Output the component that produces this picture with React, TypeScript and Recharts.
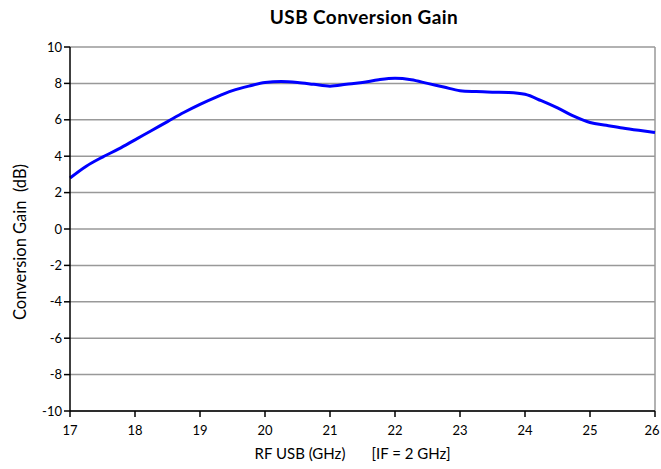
import React from "react";
import { LineChart, Line, XAxis, YAxis, CartesianGrid, ReferenceLine, Label } from "recharts";

const freqs = [17.0, 17.25, 17.5, 17.75, 18.0, 18.25, 18.5, 18.75, 19.0, 19.25, 19.5, 19.75, 20.0, 20.25, 20.5, 20.75, 21.0, 21.25, 21.5, 21.75, 22.0, 22.25, 22.5, 22.75, 23.0, 23.25, 23.5, 23.75, 24.0, 24.25, 24.5, 24.75, 25.0, 25.25, 25.5, 25.75, 26.0];
const gain = [2.8, 3.45, 3.95, 4.4, 4.9, 5.4, 5.9, 6.4, 6.85, 7.25, 7.6, 7.85, 8.05, 8.1, 8.05, 7.95, 7.85, 7.95, 8.05, 8.2, 8.28, 8.2, 8.0, 7.8, 7.6, 7.55, 7.52, 7.5, 7.4, 7.05, 6.65, 6.2, 5.85, 5.7, 5.55, 5.42, 5.3];
const xTicks = [17, 18, 19, 20, 21, 22, 23, 24, 25, 26];
const yTicks = [-10, -8, -6, -4, -2, 0, 2, 4, 6, 8, 10];

const data = freqs.map((f, i) => ({ f, g: gain[i] }));
const FONT = "Lato, 'Open Sans', sans-serif";

const XTick = (props: any) => {
  const { x, y, payload } = props;
  const shift = payload.value === 26 ? -3 : 0;
  return (
    <text x={x + shift} y={y} dy={16} textAnchor="middle" fontFamily={FONT} fontSize={13} fill="#000">
      {payload.value}
    </text>
  );
};

export default function App() {
  return (
    <div style={{ position: "absolute", left: 0, top: 0, width: 661, height: 469, background: "#fff", fontFamily: FONT }}>
      <div style={{ position: "absolute", left: 0, top: 5, width: 728, textAlign: "center", fontSize: 19, fontWeight: 700, color: "#000", lineHeight: "24px", letterSpacing: 0.4 }}>
        USB Conversion Gain
      </div>
      <LineChart width={661} height={469} data={data} margin={{ top: 47, right: 6, bottom: 28, left: 0 }}>
        <CartesianGrid vertical={false} stroke="#999" strokeWidth={1.5} />
        <ReferenceLine x={26} stroke="#999" strokeWidth={1.5} />
        <XAxis
          dataKey="f"
          type="number"
          domain={[17, 26]}
          ticks={xTicks}
          height={30}
          stroke="#000"
          strokeWidth={1.5}
          tickSize={6}
          tick={<XTick />}
          interval={0}
        >
          <Label
            content={() => (
              <g fontFamily={FONT} fontSize={15} fill="#000">
                <text x={300} y={459} textAnchor="middle">RF USB (GHz)</text>
                <text x={411} y={459} textAnchor="middle">[IF = 2 GHz]</text>
              </g>
            )}
          />
        </XAxis>
        <YAxis
          type="number"
          domain={[-10, 10]}
          ticks={yTicks}
          width={70}
          stroke="#000"
          strokeWidth={1.5}
          tickSize={6}
          tick={{ fill: "#000", fontSize: 13, fontFamily: FONT }}
          interval={0}
        >
          <Label
            content={() => (
              <text x={26} y={242} transform="rotate(-90 26 242)" textAnchor="middle" fontFamily={FONT} fontSize={16.5} fill="#000" style={{ whiteSpace: "pre" }}>
                {"Conversion Gain  (dB)"}
              </text>
            )}
          />
        </YAxis>
        <Line type="monotone" dataKey="g" stroke="#0000ff" strokeWidth={3} dot={false} isAnimationActive={false} />
      </LineChart>
    </div>
  );
}
